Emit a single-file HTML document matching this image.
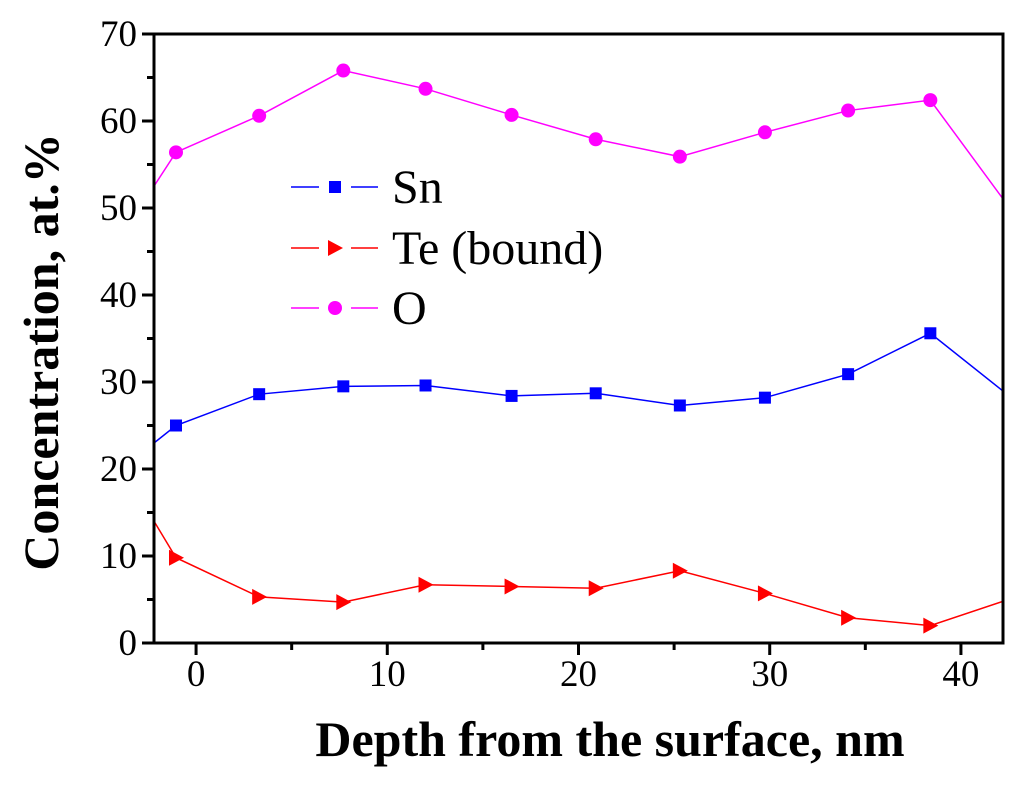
<!DOCTYPE html>
<html><head><meta charset="utf-8"><style>
html,body{margin:0;padding:0;background:#fff;}
svg{display:block;font-family:"Liberation Serif",serif;}
</style></head><body>
<svg id="chart" width="1024" height="786" viewBox="0 0 1024 786" xmlns="http://www.w3.org/2000/svg">
<defs><clipPath id="plotclip"><rect x="154" y="34" width="849" height="609"/></clipPath></defs>
<g id="series" clip-path="url(#plotclip)"></g>
<g id="markers"></g>
<g id="axes"></g>
<text x="610" y="756" text-anchor="middle" font-size="50" font-weight="bold">Depth from the surface, nm</text>
<text transform="translate(58,352) rotate(-90)" text-anchor="middle" font-size="50" font-weight="bold">Concentration, at.%</text>
<g id="legend"></g>
</svg>
<script>
const depth = [-5.4, -1.05, 3.3, 7.7, 12.0, 16.5, 20.9, 25.3, 29.75, 34.1, 38.4, 42.75];
const snValues = [17.4, 25.0, 28.6, 29.5, 29.6, 28.4, 28.7, 27.3, 28.2, 30.9, 35.6, 28.0];
const teValues = [25.7, 9.8, 5.3, 4.7, 6.7, 6.5, 6.3, 8.3, 5.7, 2.9, 2.0, 5.2];
const oValues = [41.7, 56.4, 60.6, 65.8, 63.7, 60.7, 57.9, 55.9, 58.7, 61.2, 62.4, 49.4];
const xTicks = [0, 10, 20, 30, 40];
const yTicks = [0, 10, 20, 30, 40, 50, 60, 70];

const NS = "http://www.w3.org/2000/svg";
const L = 154, R = 1003, T = 34, B = 643;
const xMin = -2.2, xMax = 42.2, yMin = 0, yMax = 70;
const xs = v => L + (v - xMin) / (xMax - xMin) * (R - L);
const ys = v => B - (v - yMin) / (yMax - yMin) * (B - T);
function mk(tag, attrs, parent){ const e = document.createElementNS(NS, tag); for (const k in attrs) e.setAttribute(k, attrs[k]); parent.appendChild(e); return e; }

const axes = document.getElementById('axes');
const frame = mk('rect', {x:L, y:T, width:R-L, height:B-T, fill:'none', stroke:'#000', 'stroke-width':3}, axes);


for (let v = 0; v <= 40; v += 5) {
  const x = xs(v), major = v % 10 === 0;
  const t = mk('line', {x1:x, x2:x, y1:B, y2:B + (major ? 12 : 7), stroke:'#000', 'stroke-width':3}, axes);
  
  
}
xTicks.forEach(v => {
  const t = mk('text', {x:xs(v), y:686, 'text-anchor':'middle', 'font-size':37}, axes);
  t.textContent = v;
  
  
});
for (let v = 0; v <= 70; v += 5) {
  const y = ys(v), major = v % 10 === 0;
  const t = mk('line', {x1:L - (major ? 12 : 7), x2:L, y1:y, y2:y, stroke:'#000', 'stroke-width':3}, axes);
  
  
}
yTicks.forEach(v => {
  const t = mk('text', {x:137, y:ys(v) + 12, 'text-anchor':'end', 'font-size':37}, axes);
  t.textContent = v;
  
  
});

const series = [
  {name:'sn', vals:snValues, color:'#0000ff', shape:'square'},
  {name:'te', vals:teValues, color:'#ff0000', shape:'tri'},
  {name:'o', vals:oValues, color:'#ff00ff', shape:'circle'}
];
const sg = document.getElementById('series'), mg = document.getElementById('markers');
function marker(shape, x, y, color, parent){
  if (shape === 'square') return mk('rect', {x:x-6, y:y-6, width:12, height:12, fill:color}, parent);
  if (shape === 'circle') return mk('circle', {cx:x, cy:y, r:7, fill:color}, parent);
  return mk('polygon', {points:`${x-7},${y-8} ${x+8},${y} ${x-7},${y+8}`, fill:color}, parent);
}
series.forEach(s => {
  const pts = depth.map((d, i) => xs(d) + ',' + ys(s.vals[i])).join(' ');
  const pl = mk('polyline', {points:pts, fill:'none', stroke:s.color, 'stroke-width':1.5}, sg);
  
  
  depth.forEach((d, i) => {
    if (d < xMin || d > xMax) return;
    const m = marker(s.shape, xs(d), ys(s.vals[i]), s.color, mg);
    
    
  });
});

const lg = document.getElementById('legend');
const labels = ['Sn', 'Te (bound)', 'O'];
const rowsY = [187, 248, 308];
series.forEach((s, i) => {
  const y = rowsY[i];
  const l1 = mk('line', {x1:291, x2:319, y1:y, y2:y, stroke:s.color, 'stroke-width':1.5}, lg);
  
  
  const l2 = mk('line', {x1:351, x2:378, y1:y, y2:y, stroke:s.color, 'stroke-width':1.5}, lg);
  
  
  const m = marker(s.shape, 335, y, s.color, lg);
  
  
  const t = mk('text', {x:392, y:y + 16, 'font-size':48}, lg);
  t.textContent = labels[i];
  
  
});
</script>
</body></html>
